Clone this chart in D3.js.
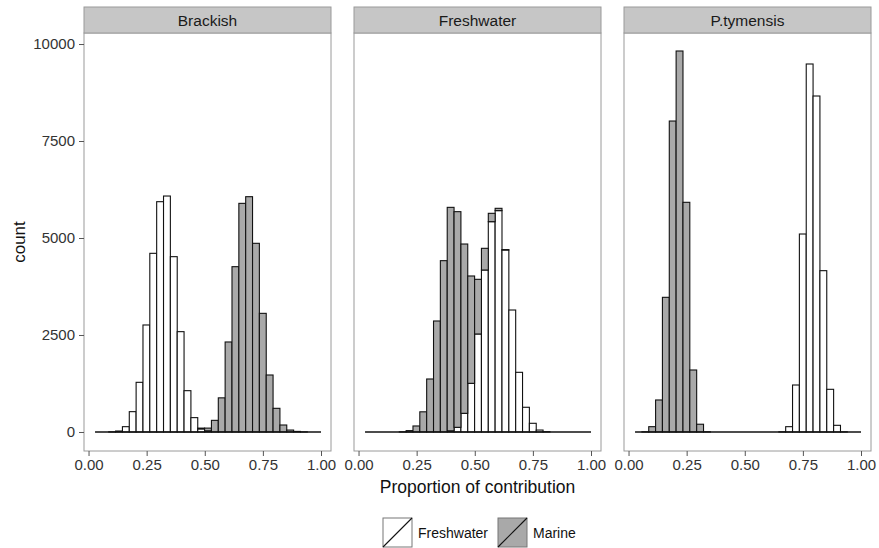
<!DOCTYPE html>
<html>
<head>
<meta charset="utf-8">
<script src="https://cdn.jsdelivr.net/npm/d3@7"></script>
<style>
  body { margin: 0; background: #fff; }
  svg text { font-family: "Liberation Sans", Arial, sans-serif; }
</style>
</head>
<body>
<div id="chart-area"></div>
<script>

// histogram bin edges (33 bins, shared by every panel)
let binEdges = [0.0280, 0.0575, 0.0869, 0.1164, 0.1458, 0.1753, 0.2047, 0.2342, 0.2636, 0.2931,
	0.3226, 0.3520, 0.3815, 0.4109, 0.4404, 0.4698, 0.4993, 0.5287, 0.5582, 0.5876,
	0.6171, 0.6466, 0.6760, 0.7055, 0.7349, 0.7644, 0.7938, 0.8233, 0.8527, 0.8822,
	0.9117, 0.9411, 0.9706, 1.0000];

let panels = ["Brackish", "Freshwater", "P.tymensis"];
let sources = ["Freshwater", "Marine"];

// counts per bin (Freshwater stacked under Marine)
let brackishFresh = [0, 0, 5, 25, 137, 524, 1280, 2758, 4605, 5936, 6082, 4519, 2586, 1065, 370, 80, 30,
	0, 0, 0, 0, 0, 0, 0, 0, 0, 0, 0, 0, 0, 0, 0, 0];
let brackishMarine = [0, 0, 0, 0, 0, 0, 0, 0, 0, 0, 0, 0, 0, 0, 0, 20, 70,
	300, 880, 2320, 4261, 5893, 6065, 4863, 3058, 1469, 610, 180, 50, 15, 3, 0, 0];

let freshFresh = [0, 0, 0, 0, 0, 0, 0, 0, 0, 0, 0, 0, 30, 120, 481, 1254, 2526,
	4175, 5421, 5706, 4691, 3144, 1538, 637, 224, 50, 8, 0, 0, 0, 0, 0, 0];
let freshMarine = [0, 0, 0, 0, 0, 5, 35, 155, 520, 1366, 2861, 4416, 5760, 5559, 4364, 2767, 1409,
	559, 215, 59, 10, 0, 0, 0, 0, 0, 0, 0, 0, 0, 0, 0, 0];

let ptymFresh = [0, 0, 0, 0, 0, 0, 0, 0, 0, 0, 0, 0, 0, 0, 0, 0, 0,
	0, 0, 0, 0, 5, 137, 1211, 5103, 9485, 8660, 4158, 1100, 172, 5, 0, 0];
let ptymMarine = [0, 5, 137, 825, 3471, 8015, 9820, 5920, 1598, 200, 5, 0, 0, 0, 0, 0, 0,
	0, 0, 0, 0, 0, 0, 0, 0, 0, 0, 0, 0, 0, 0, 0, 0];

let panelFresh = [brackishFresh, freshFresh, ptymFresh];
let panelMarine = [brackishMarine, freshMarine, ptymMarine];

let xTicks = [0, 0.25, 0.5, 0.75, 1];
let yTicks = [0, 2500, 5000, 7500, 10000];

let fills = {Freshwater: "#ffffff", Marine: "#a9a9a9"};

// layout
let svgWidth = 879, svgHeight = 548;
let panelLeft = [84, 354, 624];
let panelW = 247;
let stripTop = 7, stripH = 26;
let panelTop = stripTop + stripH, panelBottom = 451;

let svg = d3.select("#chart-area").append("svg")
	.attr("width", svgWidth)
	.attr("height", svgHeight);

let x = d3.scaleLinear()
	.domain([-0.0195, 1.043])
	.range([0, panelW]);

let y = d3.scaleLinear()
	.domain([-490, 10284])
	.range([panelBottom, panelTop]);

panels.forEach((name, p) => {
	let g = svg.append("g")
		.attr("transform", "translate(" + panelLeft[p] + ",0)");

	// panel background
	g.append("rect")
		.attr("x", 0).attr("y", panelTop)
		.attr("width", panelW).attr("height", panelBottom - panelTop)
		.attr("fill", "#fff");

	// bins: freshwater at bottom, marine stacked on top
	let bins = binEdges.slice(0, -1).map((e, k) => ({
		x0: e, x1: binEdges[k + 1],
		fresh: panelFresh[p][k], marine: panelMarine[p][k]
	}));

	g.selectAll(".bar-fresh")
		.data(bins.filter(d => d.fresh > 0))
		.enter().append("rect")
		.attr("class", "bar-fresh")
		.attr("x", d => x(d.x0))
		.attr("width", d => x(d.x1) - x(d.x0))
		.attr("y", d => y(d.fresh))
		.attr("height", d => y(0) - y(d.fresh))
		.attr("fill", fills.Freshwater)
		.attr("stroke", "#111")
		.attr("stroke-width", 1.1);

	g.selectAll(".bar-marine")
		.data(bins.filter(d => d.marine > 0))
		.enter().append("rect")
		.attr("class", "bar-marine")
		.attr("x", d => x(d.x0))
		.attr("width", d => x(d.x1) - x(d.x0))
		.attr("y", d => y(d.fresh + d.marine))
		.attr("height", d => y(d.fresh) - y(d.fresh + d.marine))
		.attr("fill", fills.Marine)
		.attr("stroke", "#111")
		.attr("stroke-width", 1.1);

	// zero-count bins still show as a line along the bottom
	g.append("line")
		.attr("x1", x(binEdges[0])).attr("x2", x(binEdges[binEdges.length - 1]))
		.attr("y1", y(0)).attr("y2", y(0))
		.attr("stroke", "#111")
		.attr("stroke-width", 1.3);

	// panel border
	g.append("rect")
		.attr("x", 0).attr("y", panelTop)
		.attr("width", panelW).attr("height", panelBottom - panelTop)
		.attr("fill", "none")
		.attr("stroke", "#9a9a9a")
		.attr("stroke-width", 1);

	// strip
	g.append("rect")
		.attr("x", 0).attr("y", stripTop)
		.attr("width", panelW).attr("height", stripH)
		.attr("fill", "#c6c6c6")
		.attr("stroke", "#9a9a9a")
		.attr("stroke-width", 1);

	g.append("text")
		.attr("x", panelW / 2).attr("y", stripTop + stripH / 2 + 5.5)
		.attr("text-anchor", "middle")
		.attr("font-size", 15.5)
		.attr("fill", "#1a1a1a")
		.text(name);

	// x axis
	let xAxis = g.append("g")
		.attr("class", "x-axis axis")
		.attr("transform", "translate(0," + panelBottom + ")")
		.call(d3.axisBottom(x).tickValues(xTicks).tickFormat(d3.format(".2f")).tickSize(5).tickPadding(3));
	xAxis.select(".domain").remove();
	xAxis.selectAll("line").attr("stroke", "#555");
	xAxis.selectAll("text")
		.attr("font-size", 15)
		.attr("fill", "#333")
		.style("font-family", "Liberation Sans, Arial, sans-serif");

	// y axis only on the first panel
	if (p === 0) {
		let yAxis = g.append("g")
			.attr("class", "y-axis axis")
			.call(d3.axisLeft(y).tickValues(yTicks).tickFormat(d3.format("d")).tickSize(5).tickPadding(4));
		yAxis.select(".domain").remove();
		yAxis.selectAll("line").attr("stroke", "#555");
		yAxis.selectAll("text")
			.attr("font-size", 15)
			.attr("fill", "#333")
			.style("font-family", "Liberation Sans, Arial, sans-serif");
	}
});

// axis titles
svg.append("text")
	.attr("x", (panelLeft[0] + panelLeft[2] + panelW) / 2)
	.attr("y", 493)
	.attr("text-anchor", "middle")
	.attr("font-size", 17.5)
	.attr("fill", "#111")
	.text("Proportion of contribution");

svg.append("text")
	.attr("transform", "translate(25," + ((panelTop + panelBottom) / 2) + ") rotate(-90)")
	.attr("text-anchor", "middle")
	.attr("font-size", 17)
	.attr("fill", "#111")
	.text("count");

// legend at the bottom
let legendX = [383, 498];
let keySize = 29;
let legendY = 518;

let legend = svg.selectAll(".legend-item")
	.data(sources)
	.enter().append("g")
	.attr("class", "legend-item")
	.attr("transform", (d, i) => "translate(" + legendX[i] + "," + legendY + ")");

legend.append("rect")
	.attr("width", keySize).attr("height", keySize)
	.attr("fill", d => fills[d])
	.attr("stroke", "#777")
	.attr("stroke-width", 1);

legend.append("line")
	.attr("x1", 0).attr("y1", keySize)
	.attr("x2", keySize).attr("y2", 0)
	.attr("stroke", "#111")
	.attr("stroke-width", 1.1);

legend.append("text")
	.attr("x", keySize + 6)
	.attr("y", keySize / 2 + 5)
	.attr("font-size", 14)
	.attr("fill", "#111")
	.text(d => d);

</script>
</body>
</html>
